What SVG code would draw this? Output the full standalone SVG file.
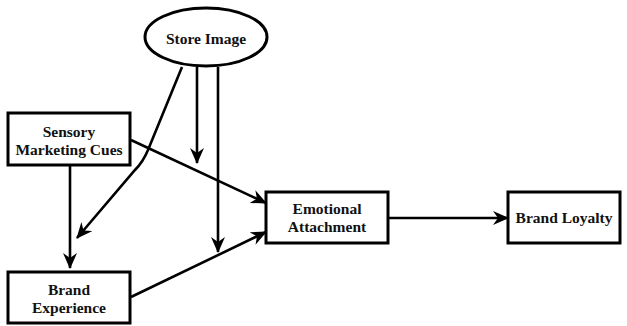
<svg xmlns="http://www.w3.org/2000/svg" width="627" height="326" viewBox="0 0 627 326">
<style>
.box{fill:#fff;stroke:#000;stroke-width:3}
.lbl{font-family:"Liberation Serif","Times New Roman",serif;font-weight:bold;font-size:15.5px;text-anchor:middle;fill:#111}
.edge{fill:none;stroke:#000;stroke-width:2.6;marker-end:url(#ah)}
</style>
<defs>
<marker id="ah" viewBox="0 0 16 14" refX="15" refY="7" markerWidth="16" markerHeight="14" markerUnits="userSpaceOnUse" orient="auto">
<path d="M0,0 L16,7 L0,14 L5,7 Z" fill="#000"/>
</marker>
</defs>
<rect width="627" height="326" fill="#fff"/>
<g id="connectors">
<path class="edge" d="M70,166 L70,268"/>
<path class="edge" d="M182,67 L148,150 Q143,162 135,170 L77,238"/>
<path class="edge" d="M197,67 L197,163"/>
<path class="edge" d="M218,67 L218,252"/>
<path class="edge" d="M131,140 L266,203"/>
<path class="edge" d="M131,297 L266,232"/>
<path class="edge" d="M389,218 L508,218"/>
</g>
<g id="store-image">
<ellipse class="box" cx="206" cy="37" rx="61" ry="29"/>
<text class="lbl" x="206" y="44">Store Image</text>
</g>
<g id="sensory">
<rect class="box" x="8" y="113" width="122" height="52"/>
<text class="lbl" x="69" y="137">Sensory</text>
<text class="lbl" x="69" y="155">Marketing Cues</text>
</g>
<g id="brand-experience">
<rect class="box" x="8" y="272" width="122" height="51"/>
<text class="lbl" x="69" y="295">Brand</text>
<text class="lbl" x="69" y="313">Experience</text>
</g>
<g id="emotional">
<rect class="box" x="266" y="192" width="122" height="51"/>
<text class="lbl" x="327" y="214">Emotional</text>
<text class="lbl" x="327" y="232">Attachment</text>
</g>
<g id="brand-loyalty">
<rect class="box" x="508" y="192" width="112" height="51"/>
<text class="lbl" x="564" y="223">Brand Loyalty</text>
</g>
</svg>
